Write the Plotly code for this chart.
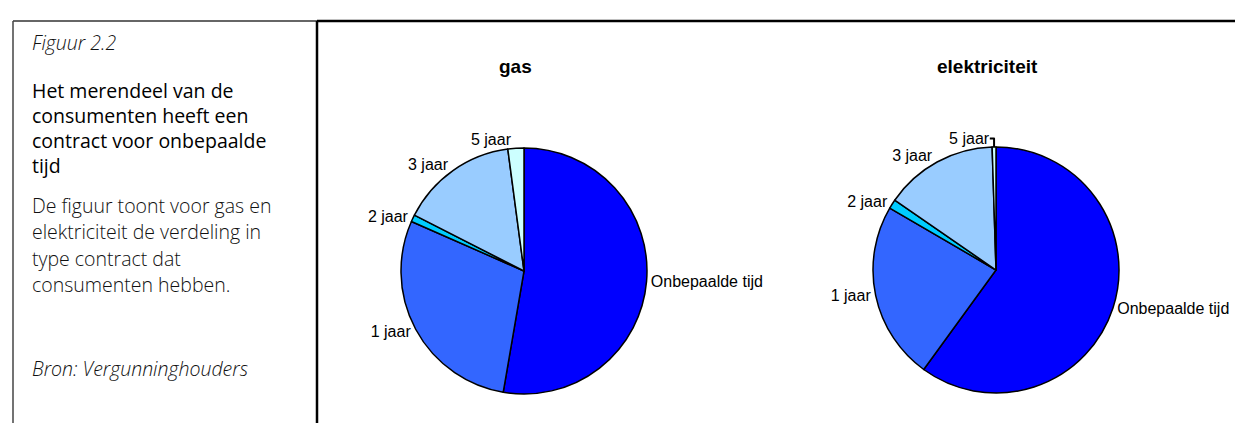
import plotly.graph_objects as go

W, H = 1243, 423

categories = ["Onbepaalde tijd", "1 jaar", "2 jaar", "3 jaar", "5 jaar"]
gas_values = [52.7, 28.9, 0.9, 15.4, 2.1]
elek_values = [60.0, 23.4, 1.2, 14.9, 0.5]
slice_colors = ["#0000FF", "#3366FF", "#00CCFF", "#99CCFF", "#CCFFFF"]
chart_titles = ["gas", "elektriciteit"]

fig_label = "Figuur 2.2"
headline = ["Het merendeel van de", "consumenten heeft een", "contract voor onbepaalde", "tijd"]
body = ["De figuur toont voor gas en", "elektriciteit de verdeling in", "type contract dat", "consumenten hebben."]
source = "Bron: Vergunninghouders"


def px_x(x):
    return x / W


def px_y(y):
    return (H - y) / H


R = 123
centers = [(516, 263), (988, 262)]
ARIAL = "Liberation Sans, Arial, sans-serif"

fig = go.Figure()
for vals, (cx, cy), name in zip([gas_values, elek_values], centers, chart_titles):
    fig.add_trace(go.Pie(
        labels=categories,
        values=vals,
        name=name,
        sort=False,
        direction="clockwise",
        rotation=0,
        marker=dict(colors=slice_colors, line=dict(color="#000000", width=1.5)),
        textinfo="label",
        textposition="outside",
        textfont=dict(family=ARIAL, size=16, color="#000000"),
        domain=dict(x=[px_x(cx - R), px_x(cx + R)], y=[px_y(cy + R), px_y(cy - R)]),
        showlegend=False,
        hoverinfo="label+percent",
    ))

annotations = []
# chart titles
for (cx, cy), t in zip(centers, chart_titles):
    annotations.append(dict(
        text="<b>%s</b>" % t, x=px_x(cx - 9), y=px_y(65 - 0.35 * 19), xref="paper", yref="paper",
        xanchor="center", yanchor="middle", showarrow=False,
        font=dict(family=ARIAL, size=19, color="#000000"),
    ))

LEFT = 22
side_font = "Open Sans, Noto Sans, sans-serif"


def add_line(text, baseline, size, color="#000000", italic=False, weight=400):
    t = "<i>%s</i>" % text if italic else text
    annotations.append(dict(
        text=t, x=px_x(LEFT), y=px_y(baseline - 0.39 * size), xref="paper", yref="paper",
        xanchor="left", yanchor="middle", showarrow=False,
        font=dict(family=side_font, size=size, color=color, weight=weight),
    ))


add_line(fig_label, 42, 19.5, "#111111", italic=True, weight=300)
for i, line in enumerate(headline):
    add_line(line, 90 + 25 * i, 19.5, "#000000", weight=500)
for i, line in enumerate(body):
    add_line(line, 205 + 26.5 * i, 19.5, "#111111", weight=300)
add_line(source, 368, 19.5, "#111111", italic=True, weight=300)

shapes = [
    dict(type="line", xref="paper", yref="paper", x0=px_x(5), x1=px_x(309), y0=px_y(13), y1=px_y(13),
         line=dict(color="#333333", width=1.5)),
    dict(type="line", xref="paper", yref="paper", x0=px_x(309), x1=1, y0=px_y(13), y1=px_y(13),
         line=dict(color="#000000", width=2.5)),
    dict(type="line", xref="paper", yref="paper", x0=px_x(5), x1=px_x(5), y0=0, y1=px_y(13),
         line=dict(color="#444444", width=1.5)),
    dict(type="line", xref="paper", yref="paper", x0=px_x(309), x1=px_x(309), y0=0, y1=px_y(13),
         line=dict(color="#000000", width=2.5)),
]

fig.update_layout(
    width=W, height=H,
    margin=dict(l=0, r=0, t=0, b=0),
    paper_bgcolor="#FFFFFF",
    plot_bgcolor="#FFFFFF",
    annotations=annotations,
    shapes=shapes,
    showlegend=False,
)

fig.write_html("out.html")
